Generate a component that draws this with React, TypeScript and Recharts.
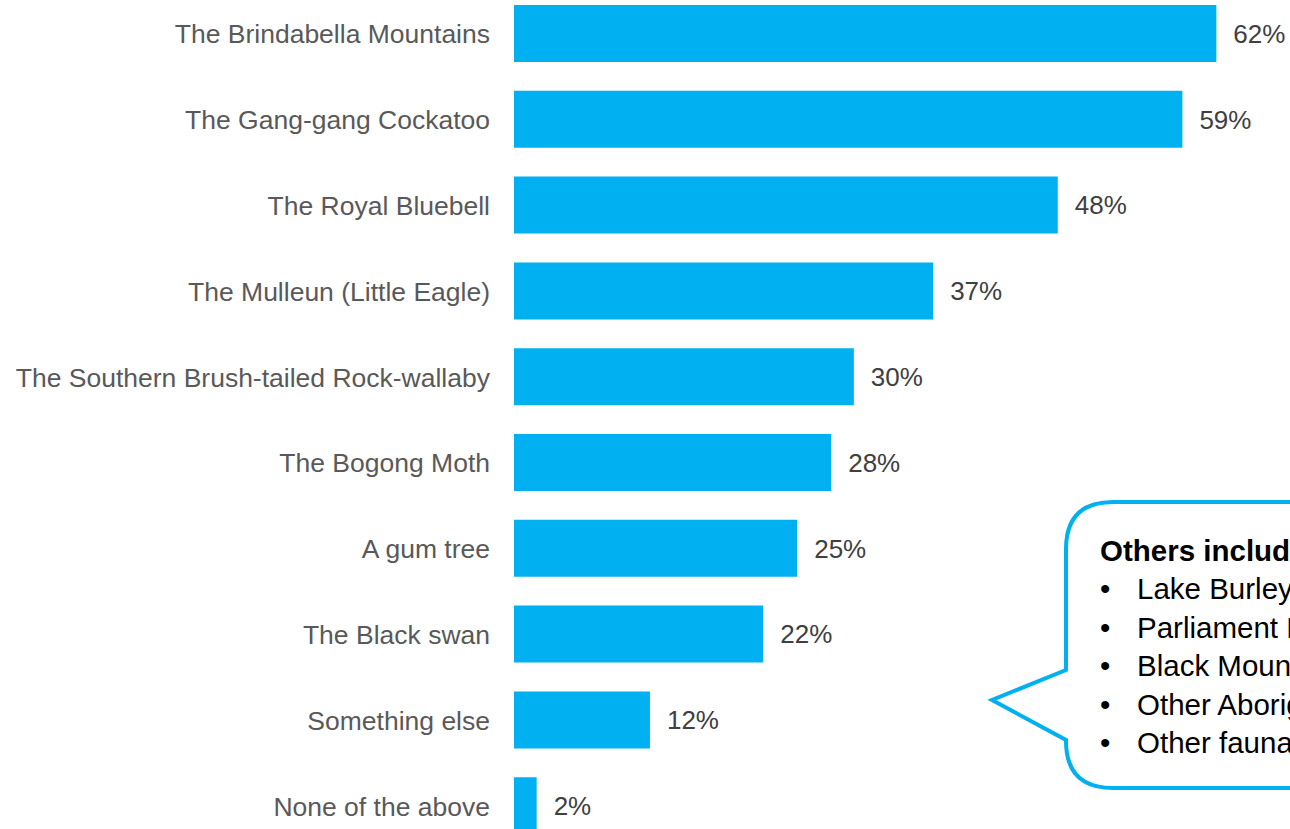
import React from 'react';
import { BarChart, Bar, XAxis, YAxis, LabelList } from 'recharts';

const categories = [
  'The Brindabella Mountains',
  'The Gang-gang Cockatoo',
  'The Royal Bluebell',
  'The Mulleun (Little Eagle)',
  'The Southern Brush-tailed Rock-wallaby',
  'The Bogong Moth',
  'A gum tree',
  'The Black swan',
  'Something else',
  'None of the above',
];

const shares = [62, 59, 48, 37, 30, 28, 25, 22, 12, 2];

const calloutTitle = 'Others included:';
const calloutItems = [
  'Lake Burley Griffin',
  'Parliament House',
  'Black Mountain Tower',
  'Other Aboriginal symbols',
  'Other fauna and flora',
];

const FONT = '"Liberation Sans", Arial, sans-serif';
const BLUE = '#00B0F0';

const data = categories.map((name, i) => ({ name, value: shares[i] }));

// speech bubble on the right, runs off the edge of the page like the original
const Callout = () => {
  const path =
    'M 1113 502 L 1360 502 L 1360 788 L 1113 788 ' +
    'Q 1066 788 1066 741 L 1066 740 L 992 700 L 1066 670 ' +
    'L 1066 549 Q 1066 502 1113 502 Z';
  return (
    <svg
      width={1290}
      height={829}
      style={{ position: 'absolute', left: 0, top: 0, pointerEvents: 'none' }}
    >
      <path d={path} fill="#fff" stroke={BLUE} strokeWidth={4} strokeLinejoin="miter" />
      <text x={1100} y={561} fontFamily={FONT} fontSize={29.5} fontWeight="bold" fill="#000">
        {calloutTitle}
      </text>
      {calloutItems.map((item, i) => (
        <g key={item}>
          <text x={1100} y={599 + i * 38.5} fontFamily={FONT} fontSize={29.5} fill="#000">
            •
          </text>
          <text x={1137} y={599 + i * 38.5} fontFamily={FONT} fontSize={29.5} fill="#000">
            {item}
          </text>
        </g>
      ))}
    </svg>
  );
};

export default function App() {
  return (
    <div
      style={{
        position: 'fixed',
        left: 0,
        top: 0,
        width: 1290,
        height: 829,
        overflow: 'hidden',
        background: '#fff',
      }}
    >
      <div style={{ position: 'absolute', left: 0, top: -9 }}>
        <BarChart
          width={1290}
          height={858}
          data={data}
          layout="vertical"
          margin={{ top: 0, right: 0, bottom: 0, left: 0 }}
        >
          <XAxis type="number" hide domain={[0, 68.5]} />
          <YAxis
            type="category"
            dataKey="name"
            width={514}
            axisLine={false}
            tickLine={false}
            tickSize={0}
            tickMargin={24}
            interval={0}
            tick={{ fill: '#595959', fontSize: 26.5, fontFamily: FONT }}
          />
          <Bar dataKey="value" fill={BLUE} barSize={57} isAnimationActive={false}>
            <LabelList
              dataKey="value"
              position="right"
              offset={17}
              formatter={(v: any) => `${v}%`}
              style={{ fill: '#404040', fontSize: 26, fontFamily: FONT }}
            />
          </Bar>
        </BarChart>
      </div>
      <Callout />
    </div>
  );
}
